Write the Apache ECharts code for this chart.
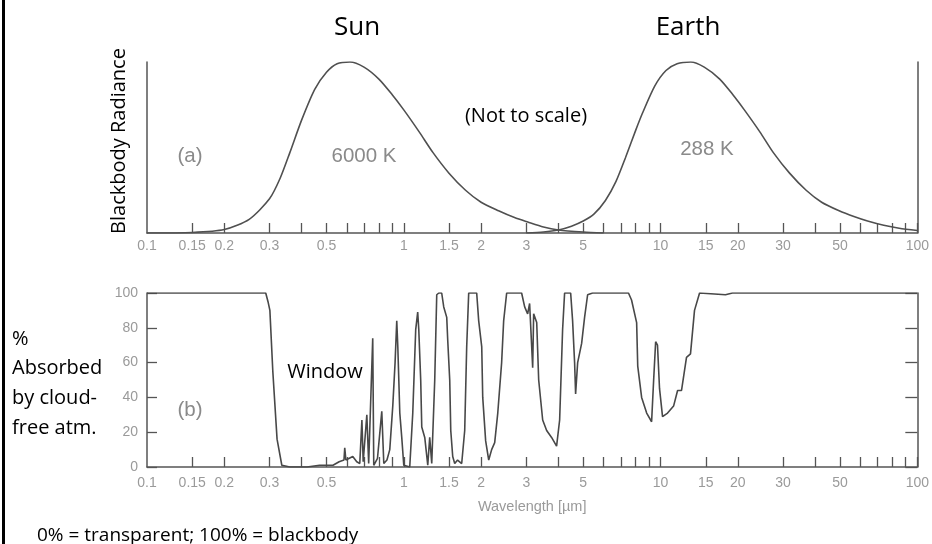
<!DOCTYPE html>
<html>
<head>
<meta charset="utf-8">
<script src="https://cdn.jsdelivr.net/npm/echarts@6/dist/echarts.min.js"></script>
<style>
  html, body { margin: 0; padding: 0; background: #fff; }
  #chart { width: 932px; height: 544px; }
</style>
</head>
<body>
<div id="chart"></div>
<script>
// ---- Data ----
// (a) Normalised blackbody radiance curves (not to scale)
const sunWavelength = [0.1, 0.15, 0.2, 0.25, 0.3, 0.33, 0.36, 0.4, 0.45, 0.5, 0.55, 0.617, 0.7, 0.8, 0.9, 1.0, 1.15, 1.3, 1.5, 1.74, 2.0, 2.34, 2.7, 3.04, 3.5, 4.0, 5.0, 6.0];
const sunRadiance   = [0, 0.003, 0.02, 0.08, 0.2, 0.32, 0.47, 0.66, 0.84, 0.94, 0.99, 1.0, 0.97, 0.9, 0.81, 0.72, 0.59, 0.47, 0.35, 0.25, 0.18, 0.13, 0.09, 0.064, 0.035, 0.018, 0.006, 0];

const earthWavelength = [3.0, 3.5, 4.0, 4.5, 5.0, 5.5, 6.1, 6.7, 7.3, 8.0, 8.5, 9.5, 10.5, 11.6, 13.1, 14.8, 17.0, 19.1, 21.2, 24.4, 27.5, 31.8, 36.9, 42.4, 49.6, 57, 64, 74, 85, 100];
const earthRadiance   = [0, 0.006, 0.018, 0.04, 0.07, 0.11, 0.19, 0.3, 0.44, 0.6, 0.7, 0.86, 0.95, 0.99, 1.0, 0.97, 0.9, 0.81, 0.72, 0.59, 0.47, 0.35, 0.25, 0.18, 0.13, 0.095, 0.07, 0.045, 0.028, 0.015];

// (b) Percent absorbed by the cloud-free atmosphere
const absWavelength = [0.1, 0.29, 0.296, 0.301, 0.309, 0.321, 0.335, 0.36, 0.42, 0.47, 0.53, 0.56, 0.585, 0.589, 0.595,
  0.633, 0.656, 0.674, 0.687, 0.695, 0.718, 0.73, 0.757, 0.764, 0.79, 0.821, 0.836, 0.86, 0.882, 0.906, 0.925,
  0.939, 0.948, 0.965, 0.982, 1.0, 1.055, 1.084, 1.113, 1.133, 1.144, 1.164, 1.175, 1.207, 1.24, 1.262, 1.285,
  1.32, 1.344, 1.369, 1.405, 1.431, 1.47, 1.483, 1.51, 1.524, 1.551, 1.579, 1.62, 1.681, 1.727, 1.758, 1.79,
  1.923, 1.958, 2.012, 2.03, 2.084, 2.142, 2.199, 2.26, 2.323, 2.405, 2.449, 2.516, 2.877, 2.957, 3.037, 3.091,
  3.177, 3.205, 3.294, 3.353, 3.475, 3.601, 3.764, 3.937, 4.046, 4.155, 4.23, 4.466, 4.545, 4.627, 4.669, 4.755,
  4.928, 5.06, 5.2, 5.435, 7.5, 7.71, 8.07, 8.15, 8.44, 8.83, 9.23, 9.4, 9.57, 9.73, 9.91, 10.18, 10.65, 11.24,
  11.65, 12.07, 12.62, 13.08, 13.56, 14.19, 17.9, 19.05, 100];
const absPercent = [100, 100, 95, 90, 55, 16, 1, 0, 0, 1, 1, 3, 4, 11, 4,
  6, 3, 2, 27, 3, 30, 2, 74, 1, 5, 32, 2, 4, 10, 35, 60,
  84, 69, 31, 17, 1, 0, 31, 79, 89, 79, 50, 23, 17, 1, 17, 2,
  50, 99, 100, 100, 92, 86, 73, 50, 21, 6, 2, 4, 2, 21, 69, 100,
  100, 84, 69, 40, 15, 4, 10, 14, 31, 60, 84, 100, 100, 92, 88, 94,
  57, 88, 83, 50, 27, 21, 17, 12, 27, 79, 100, 100, 84, 60, 42, 60,
  71, 86, 99, 100, 100, 96, 83, 58, 40, 31, 26, 50, 72, 70, 45, 29, 31, 35,
  44, 44, 63, 65, 90, 100, 99, 100, 100];

// Axis ticks / labels
const wlTicks  = [0.15, 0.2, 0.3, 0.4, 0.5, 0.6, 0.7, 0.8, 0.9, 1, 1.5, 2, 3, 4, 5, 6, 7, 8, 9, 10, 15, 20, 30, 40, 50, 60, 70, 80, 90, 100];
const wlLabels = [0.1, 0.15, 0.2, 0.3, 0.5, 1, 1.5, 2, 3, 5, 10, 15, 20, 30, 50, 100];
const absTicks = [0, 20, 40, 60, 80, 100];

// ---- Chart ----
const zip = (xs, ys) => xs.map((x, i) => [x, ys[i]]);
const AX = '#555';
const LBL = '#9a9a9a';
const fmt = v => String(parseFloat(Number(v).toPrecision(6)));
const grayFont = 'Liberation Sans, Arial, sans-serif';
const annFont = '"Open Sans", "Noto Sans", sans-serif';

function wlAxis(grid, labelMargin, extra) {
  return Object.assign({
    type: 'log', logBase: 10, gridIndex: grid, min: 0.1, max: 100,
    axisLine: { show: true, lineStyle: { color: AX, width: 1.5 } },
    axisTick: { show: true, inside: true, length: 10, customValues: wlTicks, lineStyle: { color: AX, width: 1.3 } },
    minorTick: { show: false },
    axisLabel: { show: true, customValues: wlLabels, formatter: fmt, color: LBL, fontSize: 14,
                 fontFamily: grayFont, margin: labelMargin, showMinLabel: true, showMaxLabel: true },
    splitLine: { show: false }
  }, extra || {});
}

const chart = echarts.init(document.getElementById('chart'), null, { renderer: 'canvas' });

chart.setOption({
  animation: false,
  backgroundColor: '#ffffff',
  grid: [
    { left: 147, top: 62, width: 772, height: 171 },
    { left: 147, top: 293, width: 772, height: 174 }
  ],
  xAxis: [
    wlAxis(0, 6),
    wlAxis(1, 9, {
      name: 'Wavelength [\u00b5m]', nameLocation: 'middle', nameGap: 32,
      nameTextStyle: { color: LBL, fontSize: 14.5, fontFamily: grayFont }
    })
  ],
  yAxis: [
    { type: 'value', gridIndex: 0, min: 0, max: 1, position: 'left',
      axisLine: { show: true, lineStyle: { color: AX, width: 1.5 } },
      axisTick: { show: false }, axisLabel: { show: false }, splitLine: { show: false } },
    { type: 'value', gridIndex: 0, min: 0, max: 1, position: 'right',
      axisLine: { show: true, lineStyle: { color: AX, width: 1.5 } },
      axisTick: { show: false }, axisLabel: { show: false }, splitLine: { show: false } },
    { type: 'value', gridIndex: 1, min: 0, max: 100, interval: 20, position: 'left',
      axisLine: { show: true, lineStyle: { color: AX, width: 1.5 } },
      axisTick: { show: true, inside: true, length: 10, lineStyle: { color: AX, width: 1.3 } },
      axisLabel: { show: true, color: LBL, fontSize: 14, fontFamily: grayFont, margin: 9,
                   customValues: absTicks },
      splitLine: { show: false } },
    { type: 'value', gridIndex: 1, min: 0, max: 100, interval: 20, position: 'right',
      axisLine: { show: true, lineStyle: { color: AX, width: 1.5 } },
      axisTick: { show: true, inside: true, length: 12, lineStyle: { color: AX, width: 1.3 } },
      axisLabel: { show: false }, splitLine: { show: false } }
  ],
  series: [
    { name: 'Sun 6000 K', type: 'line', xAxisIndex: 0, yAxisIndex: 0, data: zip(sunWavelength, sunRadiance),
      showSymbol: false, smooth: 0.25, lineStyle: { color: '#505050', width: 1.6 } },
    { name: 'Earth 288 K', type: 'line', xAxisIndex: 0, yAxisIndex: 0, data: zip(earthWavelength, earthRadiance),
      showSymbol: false, smooth: 0.25, lineStyle: { color: '#505050', width: 1.6 } },
    { name: 'Absorbed', type: 'line', xAxisIndex: 1, yAxisIndex: 2, data: zip(absWavelength, absPercent),
      showSymbol: false, smooth: false, lineStyle: { color: '#484848', width: 1.6 } }
  ],
  graphic: [
    { type: 'rect', shape: { x: 2, y: 0, width: 3, height: 544 }, style: { fill: '#000' }, silent: true },
    { type: 'text', x: 357, y: 28, style: { text: 'Sun', fill: '#000', font: '26px ' + annFont, textAlign: 'center', textVerticalAlign: 'middle' } },
    { type: 'text', x: 688, y: 28, style: { text: 'Earth', fill: '#000', font: '26px ' + annFont, textAlign: 'center', textVerticalAlign: 'middle' } },
    { type: 'text', x: 119, y: 141, rotation: Math.PI / 2,
      style: { text: 'Blackbody Radiance', fill: '#000', font: '20px ' + annFont, textAlign: 'center', textVerticalAlign: 'middle' } },
    { type: 'text', x: 526, y: 116, style: { text: '(Not to scale)', fill: '#000', font: '20px ' + annFont, textAlign: 'center', textVerticalAlign: 'middle' } },
    { type: 'text', x: 190, y: 156, style: { text: '(a)', fill: '#8a8a8a', font: '20.5px ' + grayFont, textAlign: 'center', textVerticalAlign: 'middle' } },
    { type: 'text', x: 364, y: 156, style: { text: '6000 K', fill: '#8a8a8a', font: '20.5px ' + grayFont, textAlign: 'center', textVerticalAlign: 'middle' } },
    { type: 'text', x: 707, y: 149, style: { text: '288 K', fill: '#8a8a8a', font: '20.5px ' + grayFont, textAlign: 'center', textVerticalAlign: 'middle' } },
    { type: 'text', x: 190, y: 410, style: { text: '(b)', fill: '#8a8a8a', font: '20.5px ' + grayFont, textAlign: 'center', textVerticalAlign: 'middle' } },
    { type: 'text', x: 325, y: 372, style: { text: 'Window', fill: '#000', font: '20px ' + annFont, textAlign: 'center', textVerticalAlign: 'middle' } },
    { type: 'text', x: 12, y: 339, style: { text: '%', fill: '#000', font: '20px ' + annFont, textAlign: 'left', textVerticalAlign: 'middle' } },
    { type: 'text', x: 12, y: 368, style: { text: 'Absorbed', fill: '#000', font: '20px ' + annFont, textAlign: 'left', textVerticalAlign: 'middle' } },
    { type: 'text', x: 12, y: 398, style: { text: 'by cloud-', fill: '#000', font: '20px ' + annFont, textAlign: 'left', textVerticalAlign: 'middle' } },
    { type: 'text', x: 12, y: 428, style: { text: 'free atm.', fill: '#000', font: '20px ' + annFont, textAlign: 'left', textVerticalAlign: 'middle' } },
    { type: 'text', x: 37, y: 536, style: { text: '0% = transparent; 100% = blackbody', fill: '#000', font: '19px ' + annFont, textAlign: 'left', textVerticalAlign: 'middle' } }
  ]
});
</script>
</body>
</html>
